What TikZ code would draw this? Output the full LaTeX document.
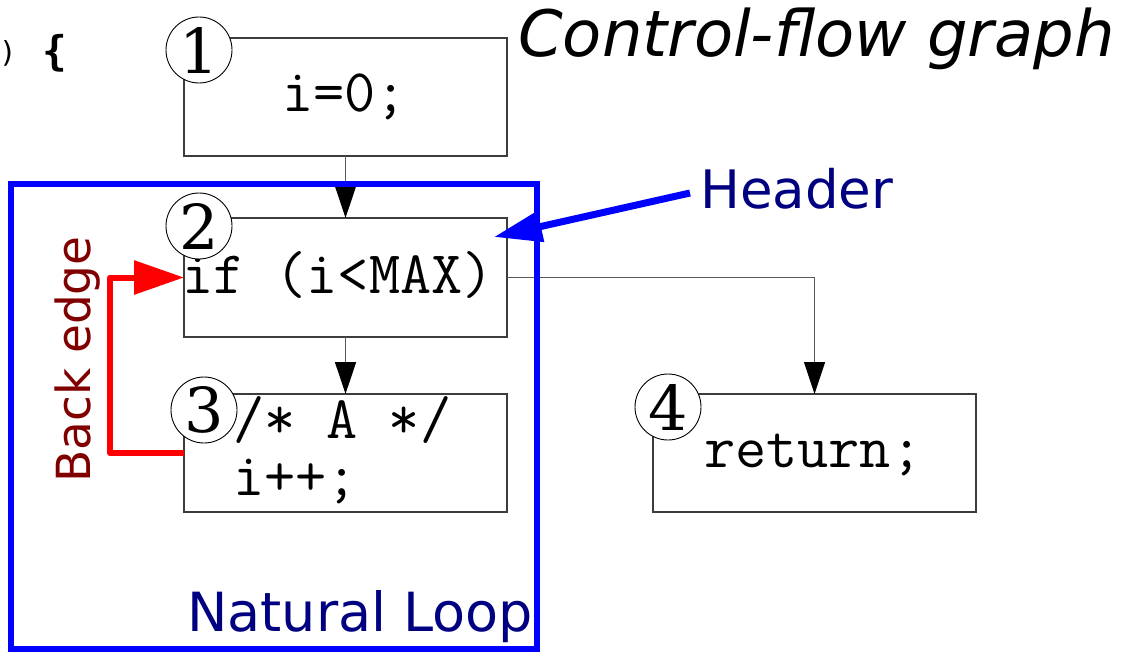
\documentclass[tikz,border=0pt]{standalone}
\usepackage{fontspec}
\usetikzlibrary{arrows.meta}
\newfontfamily\dvs{DejaVu Sans}
\newfontfamily\dvserif{DejaVu Serif}
\newfontfamily\dvmono{DejaVu Sans Mono}
\definecolor{navy}{RGB}{0,0,128}
\definecolor{maroon}{RGB}{128,0,0}
\definecolor{boxgray}{RGB}{60,60,60}
\definecolor{conngray}{RGB}{90,90,90}
\tikzset{
  cfgbox/.style={draw=boxgray, line width=1.2pt, minimum width=323pt, minimum height=118pt, anchor=north west, inner sep=0pt, outer sep=0pt},
  numc/.style={circle, draw=black, line width=0.9pt, fill=white, minimum size=66pt, inner sep=0pt, font=\dvserif\fontsize{62}{62}\selectfont},
  code/.style={anchor=base west, inner sep=0pt, font=\ttfamily\fontsize{60.5}{60.5}\selectfont},
  conn/.style={draw=conngray, line width=1.3pt, -{Triangle[length=32pt,width=21pt,fill=black,color=black]}},
  backedge/.style={draw=red, line width=6pt, line join=round, -{Triangle[length=50pt,width=33pt]}},
  hdrarrow/.style={draw=blue, line width=7pt, -{Triangle[length=48pt,width=30pt]}},
  lbl/.style={inner sep=0pt, anchor=base west},
}
\begin{document}
\begin{tikzpicture}[x=1pt,y=-1pt]
\useasboundingbox (0,0) rectangle (1123,652);
% code fragment
\node[anchor=base west, inner sep=0pt, font=\dvmono\fontsize{29}{29}\selectfont] (par) at (-1,63) {)};
\node[inner sep=0pt, font=\dvmono\bfseries\fontsize{41}{41}\selectfont] (brc) at (55,53) {\{};
% title
\node[lbl, font=\dvs\itshape\fontsize{64}{64}\selectfont] (title) at (518,57) {Control-flow graph};
% boxes
\node[cfgbox] (b1) at (184,38) {};
\node[cfgbox, minimum height=119pt] (b2) at (184,218) {};
\node[cfgbox] (b3) at (184,394) {};
\node[cfgbox] (b4) at (653,394) {};
% code texts
\node[code] (t1) at (282,112) {i=0;};
\node[code] (t2) at (182,293) {if (i<MAX)};
\node[code] (t3a) at (233,438) {/* A */};
\node[code] (t3b) at (233,495) {i++;};
\node[code] (t4) at (704,467) {return;};
% numbers
\node[numc] (n1) at (199,50) {1};
\node[numc] (n2) at (199,226) {2};
\node[numc] (n3) at (204,410) {3};
\node[numc] (n4) at (668,407) {4};
% connectors
\draw[conn] (b1.south) -- (b2.north);
\draw[conn] (b2.south) -- (b3.north);
\draw[conn] (b2.east) -| (b4.north);
% natural loop
\node[draw=blue, line width=6pt, minimum width=526pt, minimum height=465pt, anchor=north west, inner sep=0pt, outer sep=0pt] (loop) at (11,184) {};
\node[lbl, text=navy, font=\dvs\fontsize{54}{54}\selectfont] (nl) at (187,631) {Natural Loop};
% header
\node[lbl, text=navy, font=\dvs\fontsize{53}{53}\selectfont] (hdr) at (700,209) {Header};
\coordinate (hs) at (690,193);
\coordinate (ht) at (494,237);
\draw[hdrarrow] (hs) -- (ht);
% back edge
\coordinate (bk) at (110,365);
\draw[backedge] (b3.west) -- (b3.west -| bk) -- (b2.west -| bk) -- (b2.west);
\node[lbl, text=maroon, rotate=90, font=\dvs\fontsize{47}{47}\selectfont] (be) at (90,483) {Back edge};
\end{tikzpicture}
\end{document}
